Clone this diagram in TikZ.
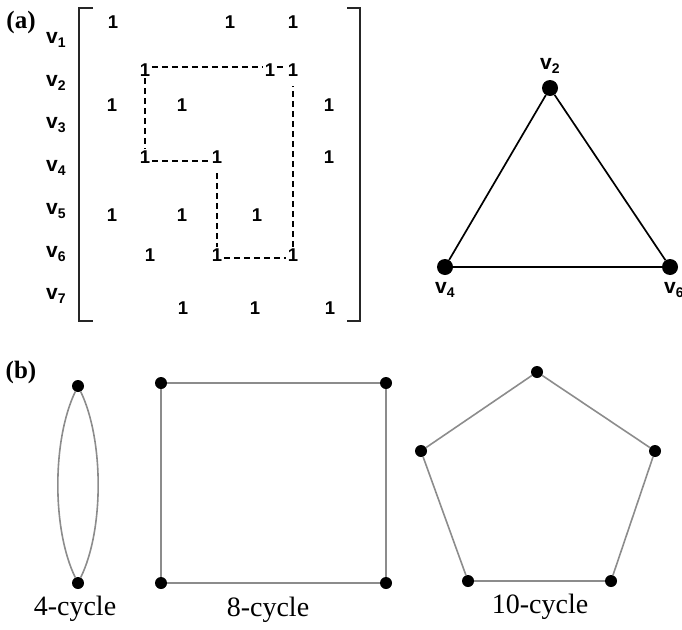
\documentclass[tikz,border=0pt]{standalone}
\usepackage{fontspec}
\setmainfont{Liberation Serif}
\setsansfont{Liberation Sans}
\newcommand\vlab[1]{{\sffamily\bfseries\fontsize{21}{21}\selectfont v\raisebox{-4pt}{\fontsize{14}{14}\selectfont #1}}}
\begin{document}
\begin{tikzpicture}[x=1pt,y=-1pt,
  ent/.style={font=\sffamily\bfseries\fontsize{18.5}{18.5}\selectfont, inner sep=1.5pt},
  vl/.style={anchor=base west, inner sep=0pt},
  dline/.style={dash pattern=on 6pt off 4pt, line width=1.4pt},
  brk/.style={line width=1.6pt, black!85},
  tdot/.style={circle, fill=black, inner sep=0pt, minimum size=16pt},
  bdot/.style={circle, fill=black, inner sep=0pt, minimum size=12pt},
  tedge/.style={line width=1.7pt, black},
  bedge/.style={line width=1.6pt, black!45},
  captext/.style={font=\fontsize{28}{28}\selectfont},
  plabel/.style={font=\bfseries\fontsize{25}{25}\selectfont}]
\useasboundingbox (0,0) rectangle (682,629);
% panel labels
\node[plabel] (pa) at (21,22) {(a)};
\node[plabel] (pb) at (21,372) {(b)};
% row labels
\node[vl] (r1) at (46,43) {\vlab{1}};
\node[vl] (r2) at (46,86) {\vlab{2}};
\node[vl] (r3) at (46,128) {\vlab{3}};
\node[vl] (r4) at (46,171) {\vlab{4}};
\node[vl] (r5) at (46,214) {\vlab{5}};
\node[vl] (r6) at (46,257) {\vlab{6}};
\node[vl] (r7) at (46,299) {\vlab{7}};
% brackets
\draw[brk] (93,8) -- (79,8) -- (79,321) -- (93,321);
\draw[brk] (347,8) -- (360,8) -- (360,321) -- (347,321);
% entries
\node[ent] (m11) at (113,22) {1};
\node[ent] (m12) at (230,22) {1};
\node[ent] (m13) at (293,22) {1};
\node[ent] (m21) at (145,70) {1};
\node[ent] (m22) at (270,70) {1};
\node[ent] (m23) at (293,70) {1};
\node[ent] (m31) at (112,105) {1};
\node[ent] (m32) at (182,105) {1};
\node[ent] (m33) at (329,105) {1};
\node[ent] (m41) at (145,157) {1};
\node[ent] (m42) at (217,157) {1};
\node[ent] (m43) at (329,157) {1};
\node[ent] (m51) at (112,215) {1};
\node[ent] (m52) at (182,215) {1};
\node[ent] (m53) at (257,215) {1};
\node[ent] (m61) at (150,255) {1};
\node[ent] (m62) at (217,255) {1};
\node[ent] (m63) at (293,255) {1};
\node[ent] (m71) at (183,308) {1};
\node[ent] (m72) at (255,308) {1};
\node[ent] (m73) at (330,308) {1};
% dashed cycle
\draw[dline] ([yshift=3pt]m21.east) -- ([yshift=3pt]m22.west);
\draw[dline] ([yshift=3pt]m22.east) -- ([yshift=3pt]m23.west);
\draw[dline] (m21.south) -- (m41.north);
\draw[dline] ([yshift=-4pt]m41.east) -- ([yshift=-4pt]m42.west);
\draw[dline] ([yshift=-8pt]m42.south) -- (m62.north);
\draw[dline] ([yshift=-3pt]m62.east) -- ([yshift=-3pt]m63.west);
\draw[dline] (m63.north) -- ([yshift=-8pt]m23.south);
% triangle
\node[tdot] (t2) at (550,88) {};
\node[tdot] (t4) at (445,267) {};
\node[tdot] (t6) at (670,267) {};
\draw[tedge] (t2) -- (t4) -- (t6) -- (t2);
\node[vl] (lt2) at (540,69) {\vlab{2}};
\node[vl] (lt4) at (435,293) {\vlab{4}};
\node[vl] (lt6) at (664,293) {\vlab{6}};
% 4-cycle
\node[bdot] (a1) at (78,386) {};
\node[bdot] (a2) at (78,583) {};
\draw[bedge] (a1) .. controls (52,440) and (52,530) .. (a2);
\draw[bedge] (a1) .. controls (104,440) and (104,530) .. (a2);
% 8-cycle
\node[bdot] (s1) at (161,383) {};
\node[bdot] (s2) at (386,383) {};
\node[bdot] (s3) at (386,583) {};
\node[bdot] (s4) at (161,583) {};
\draw[bedge] (s1) -- (s2) -- (s3) -- (s4) -- (s1);
% 10-cycle
\node[bdot] (p1) at (537,372) {};
\node[bdot] (p2) at (655,451) {};
\node[bdot] (p3) at (611,581) {};
\node[bdot] (p4) at (468,581) {};
\node[bdot] (p5) at (421,451) {};
\draw[bedge] (p1) -- (p2) -- (p3) -- (p4) -- (p5) -- (p1);
% captions
\node[captext] (c4) at (75,609) {4-cycle};
\node[captext] (c8) at (268,610) {8-cycle};
\node[captext] (c10) at (540,607) {10-cycle};
\end{tikzpicture}
\end{document}
